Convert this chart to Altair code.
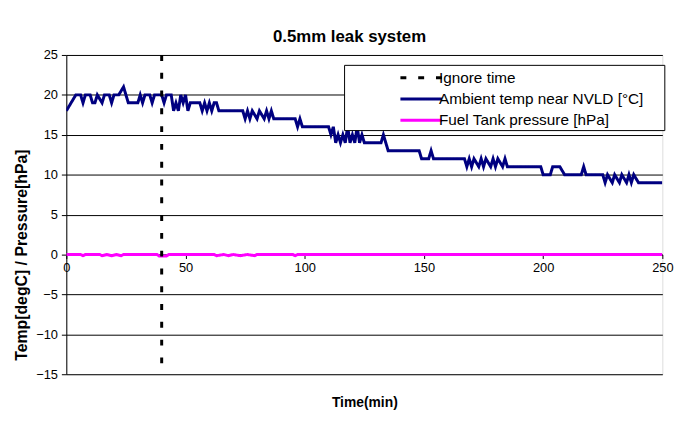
import altair as alt
import pandas as pd

FONT = "Liberation Sans"

series_names = ["Ignore time", "Ambient temp near NVLD [°C]", "Fuel Tank pressure [hPa]"]
series_colors = ["#000000", "#000080", "#FF00FF"]
series_dash = [[6, 12], [1, 0], [1, 0]]

x_ticks = [0, 50, 100, 150, 200, 250]
y_ticks = [-15, -10, -5, 0, 5, 10, 15, 20, 25]

ignore_time = [40]

amb_time = [0, 2, 4, 6, 7, 8, 10, 11, 12, 13, 15, 16, 18, 19, 20, 22, 24, 25, 26, 30,
            31, 32, 33, 35, 36, 37, 40, 41, 42, 44, 45, 46, 47, 48, 49, 50, 51, 52, 56, 57,
            58, 59, 60, 61, 62, 63, 64, 74, 75, 76, 77, 78, 80, 81, 83, 84, 85, 86, 87, 96,
            97, 98, 99, 110, 111, 112, 113, 114, 115, 116, 117, 118, 119, 120, 121, 122, 123, 124, 125, 132,
            133, 134, 135, 148, 149, 152, 153, 154, 167, 168, 169, 170, 171, 173, 174, 175, 176, 178, 179, 180,
            181, 183, 184, 185, 187, 199, 200, 203, 204, 207, 209, 216, 217, 218, 225, 226, 227, 229, 230, 232,
            233, 235, 236, 237, 238, 240, 250]
amb_temp = [18, 19, 20, 20, 19, 20, 20, 19, 19, 20, 19, 20, 20, 19, 20, 20, 21, 20, 19, 19,
            20, 19, 20, 20, 19, 20, 20, 19, 20, 20, 18, 19, 18, 20, 19, 20, 18, 19, 19, 18,
            19, 18, 19, 18, 19, 19, 18, 18, 17, 18, 17, 18, 17, 18, 17, 18, 17, 18, 17, 17,
            16, 17, 16, 16, 15, 16, 14, 15, 14, 15, 14, 16, 14, 15, 14, 16, 14, 15, 14, 14,
            15, 14, 13, 13, 12, 12, 13, 12, 12, 11, 12, 11, 12, 11, 12, 11, 12, 11, 12, 11,
            12, 11, 12, 11, 11, 11, 10, 10, 11, 11, 10, 10, 11, 10, 10, 9, 10, 9, 10, 9,
            10, 9, 10, 9, 10, 9, 9]

pres_time = [0, 6, 7, 8, 14, 15, 17, 19, 21, 23, 24, 38, 39, 42, 43, 62, 63, 66, 68, 70,
             73, 76, 79, 80, 95, 96, 97, 250]
pres_val = [0, 0, -0.15, 0, 0, -0.15, 0, -0.15, 0, -0.15, 0, 0, -0.2, -0.2, 0, 0, -0.15, 0, -0.15, 0,
            -0.15, 0, -0.15, 0, 0, -0.15, 0, 0]

lines_df = pd.DataFrame({
    "t": amb_time + pres_time,
    "v": amb_temp + pres_val,
    "s": [series_names[1]] * len(amb_time) + [series_names[2]] * len(pres_time),
})
rule_df = pd.DataFrame({"t": ignore_time, "s": [series_names[0]]})

legend = alt.Legend(
    orient="none", legendX=281, legendY=10,
    title="\u00a0", titleOrient="right", titlePadding=20, titleFontSize=15, titleFont=FONT,
    fillColor="white", strokeColor="black", padding=1,
    symbolType="M-2,0H2", symbolSize=441, symbolStrokeWidth=3, symbolOffset=65,
    labelFont=FONT, labelFontSize=15.5, labelColor="black", labelOffset=6,
    rowPadding=0.5, labelLimit=500,
)

color = alt.Color("s:N", scale=alt.Scale(domain=series_names, range=series_colors), legend=legend)
dash = alt.StrokeDash("s:N", scale=alt.Scale(domain=series_names, range=series_dash), legend=legend)

x_enc = alt.X("t:Q", scale=alt.Scale(domain=[0, 250], nice=False),
              axis=alt.Axis(values=x_ticks, title="Time(min)", offset=-121.1,
                            titleY=150, titleBaseline="middle",
                            titleFont=FONT, titleFontSize=14, titleFontWeight="bold", titleColor="black",
                            labelFont=FONT, labelFontSize=13, labelColor="black",
                            tickSize=4, labelPadding=3, tickColor="black", domainColor="black",
                            grid=False, labelFlush=False))
y_enc = alt.Y("v:Q", scale=alt.Scale(domain=[-15, 25], nice=False),
              axis=alt.Axis(values=y_ticks, title="Temp[degC] / Pressure[hPa]",
                            titleX=-45, titleY=202, titleBaseline="middle", titleAngle=-90,
                            titleFont=FONT, titleFontSize=16, titleFontWeight="bold", titleColor="black",
                            labelFont=FONT, labelFontSize=13, labelColor="black",
                            tickSize=5, labelPadding=4, tickColor="black", domainColor="black",
                            grid=True, gridColor="black", gridWidth=1, gridOpacity=1))

lines = alt.Chart(lines_df).mark_line(strokeWidth=3, clip=True).encode(
    x=x_enc, y=y_enc, color=color, strokeDash=dash, order="t:Q")
rule = alt.Chart(rule_df).mark_rule(strokeWidth=3).encode(
    x=alt.X("t:Q"), color=color, strokeDash=dash)

chart = alt.layer(lines, rule).properties(
    width=603, height=323,
    padding={"left": 59, "top": 45, "right": 30, "bottom": 62},
    autosize="none",
    title=alt.TitleParams("0.5mm leak system", font=FONT, fontSize=17, fontWeight="bold",
                          color="black", anchor="middle", frame="group", offset=3, dx=-15),
).configure_view(fill="#C0C0C0", stroke=None).configure(background="white")

chart.save("out.html", embed_options={"renderer": "svg", "actions": False})
